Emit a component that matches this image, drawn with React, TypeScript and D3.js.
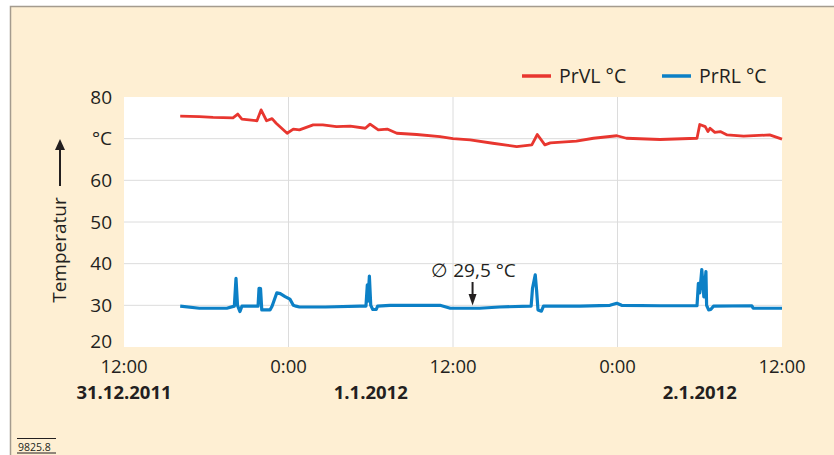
import * as d3 from "d3";

// hours after 31.12.2011 12:00
const vlHours = [4.1, 5.5, 6.5, 7.95, 8.3, 8.6, 9.7, 10.0, 10.4, 10.8, 11.1, 11.9, 12.35, 12.8, 13.8, 14.5, 15.5, 16.5, 17.6, 17.95, 18.55, 19.2, 19.9, 21.35, 23.05, 24.0, 25.25, 26.9, 28.65, 29.75, 30.15, 30.7, 31.1, 33.0, 34.25, 35.95, 36.65, 39.1, 41.8, 42.0, 42.4, 42.6, 42.75, 43.1, 43.5, 44.0, 45.2, 47.1, 48];
const vlValues = [75.4, 75.3, 75.1, 75.0, 75.9, 74.7, 74.3, 76.9, 74.3, 74.8, 73.7, 71.3, 72.3, 72.1, 73.3, 73.3, 72.9, 73.0, 72.5, 73.5, 72.1, 72.3, 71.3, 71.0, 70.5, 70.0, 69.7, 68.9, 68.1, 68.5, 71.0, 68.5, 69.0, 69.4, 70.1, 70.7, 70.1, 69.8, 70.1, 73.4, 72.9, 71.7, 72.5, 71.5, 71.7, 70.9, 70.6, 70.9, 69.9];

const rlHours = [4.1, 5.5, 7.5, 8.05, 8.17, 8.28, 8.46, 8.6, 9.78, 9.85, 9.96, 10.05, 10.65, 10.8, 11.15, 11.4, 11.75, 12.1, 12.35, 12.55, 12.8, 14.7, 17.2, 17.65, 17.75, 17.8, 17.9, 18.0, 18.15, 18.4, 18.5, 19.4, 23.05, 23.8, 25.95, 27.4, 29.6, 29.7, 29.8, 30.0, 30.1, 30.2, 30.45, 30.6, 33.25, 35.45, 35.95, 36.3, 39.1, 41.8, 41.9, 42.0, 42.15, 42.3, 42.45, 42.5, 42.65, 42.8, 43.0, 45.8, 45.9, 48];
const rlValues = [29.8, 29.3, 29.3, 29.8, 36.5, 30.0, 28.5, 29.8, 29.8, 34.1, 34.0, 28.9, 28.9, 29.8, 33.0, 32.8, 32.1, 31.5, 30.0, 29.8, 29.6, 29.6, 29.8, 29.8, 34.9, 31.0, 37.0, 30.0, 29.0, 29.0, 29.8, 30.0, 30.0, 29.3, 29.3, 29.6, 29.8, 29.8, 34.1, 37.3, 33.5, 28.9, 28.6, 29.8, 29.8, 30.0, 30.5, 30.0, 29.9, 29.9, 35.3, 33.0, 38.6, 32.0, 38.1, 30.0, 28.9, 29.0, 29.8, 29.9, 29.3, 29.3];

const yTicks = [20, 30, 40, 50, 60, 70, 80];
const seriesNames = ["PrVL °C", "PrRL °C"];
const seriesColors = ["#e8362f", "#0c80c6"];
const dateLabels = ["31.12.2011", "1.1.2012", "2.1.2012"];
const dateLabelHours = [0, 18, 42];
const meanLabel = "∅ 29,5 °C";
const meanHour = 25.5;
const meanValue = 29.5;

const start = new Date(2011, 11, 31, 12);
const at = (h: number) => new Date(start.getTime() + h * 3600e3);

const W = 834;
const H = 455;
const margin = { top: 97, right: 52, bottom: 108, left: 124 };
const font = "'Open Sans', sans-serif";

export default function App() {
    const x = d3.scaleTime()
        .domain([at(0), at(48)])
        .range([margin.left, W - margin.right]);
    const y = d3.scaleLinear()
        .domain([20, 80])
        .range([H - margin.bottom, margin.top]);

    const line = d3.line<[number, number]>()
        .x(d => x(at(d[0])))
        .y(d => y(d[1]));

    const vl = vlHours.map((h, i) => [h, vlValues[i]] as [number, number]);
    const rl = rlHours.map((h, i) => [h, rlValues[i]] as [number, number]);

    const xTicks = x.ticks(d3.timeHour.every(12)!);
    const fmt = d3.timeFormat("%-H:%M");

    const legendX = [522, 662];
    const mx = x(at(meanHour));

    return (
        <svg width={W} height={H} style={{ position: "absolute", left: 0, top: 0, fontFamily: font }}>
            <rect x={10.5} y={6.5} width={W} height={H} fill="#feefd3" stroke="#a49b8e" strokeWidth={1.5} />
            <rect x={margin.left} y={margin.top} width={W - margin.left - margin.right} height={H - margin.top - margin.bottom} fill="#fff" />

            {yTicks.slice(1, -1).map(t => (
                <line key={"gy" + t} x1={margin.left} x2={W - margin.right} y1={y(t)} y2={y(t)} stroke="#dcdcdc" strokeWidth={1} />
            ))}
            {xTicks.slice(1, -1).map((t, i) => (
                <line key={"gx" + i} x1={x(t)} x2={x(t)} y1={margin.top} y2={H - margin.bottom} stroke="#dcdcdc" strokeWidth={1} />
            ))}

            {yTicks.map(t => (
                <text key={"ty" + t} x={112} y={y(t) - (t === 20 ? 6 : 0)} dy="0.35em" textAnchor="end" fontSize={19} fill="#231f20">
                    {t === 70 ? "°C" : t}
                </text>
            ))}
            {xTicks.map((t, i) => (
                <text key={"tx" + i} x={x(t)} y={373} textAnchor="middle" fontSize={18.5} fill="#231f20">{fmt(t)}</text>
            ))}
            {dateLabels.map((d, i) => (
                <text key={"d" + i} x={x(at(dateLabelHours[i]))} y={399} textAnchor="middle" fontSize={18.5} fontWeight="bold" fill="#231f20">{d}</text>
            ))}

            <text transform="translate(66,250) rotate(-90)" textAnchor="middle" fontSize={19} fill="#231f20">Temperatur</text>
            <line x1={60} x2={60} y1={186} y2={146} stroke="#231f20" strokeWidth={2} />
            <path d="M55,150 L60,139 L65,150 Z" fill="#231f20" />

            <path d={line(rl) ?? ""} fill="none" stroke={seriesColors[1]} strokeWidth={3.2} strokeLinejoin="round" />
            <path d={line(vl) ?? ""} fill="none" stroke={seriesColors[0]} strokeWidth={2.8} strokeLinejoin="round" />

            <text x={mx} y={277} textAnchor="middle" fontSize={19} fill="#231f20">{meanLabel}</text>
            <line x1={mx - 1} x2={mx - 1} y1={282} y2={296} stroke="#231f20" strokeWidth={2} />
            <path d={`M${mx - 5},294 L${mx - 1},${y(meanValue) - 2} L${mx + 3},294 Z`} fill="#231f20" />

            {seriesNames.map((s, i) => (
                <g key={s} transform={`translate(${legendX[i]},76)`}>
                    <line x1={0} x2={29} y1={0} y2={0} stroke={seriesColors[i]} strokeWidth={3.5} />
                    <text x={37} y={0} dy="0.35em" fontSize={19.5} fill="#231f20">{s}</text>
                </g>
            ))}

            <text x={18} y={451} fontSize={10.5} fill="#231f20">9825.8</text>
            <line x1={17} x2={56} y1={438.5} y2={438.5} stroke="#231f20" strokeWidth={1} />
            <line x1={17} x2={56} y1={453} y2={453} stroke="#231f20" strokeWidth={1} />
        </svg>
    );
}
